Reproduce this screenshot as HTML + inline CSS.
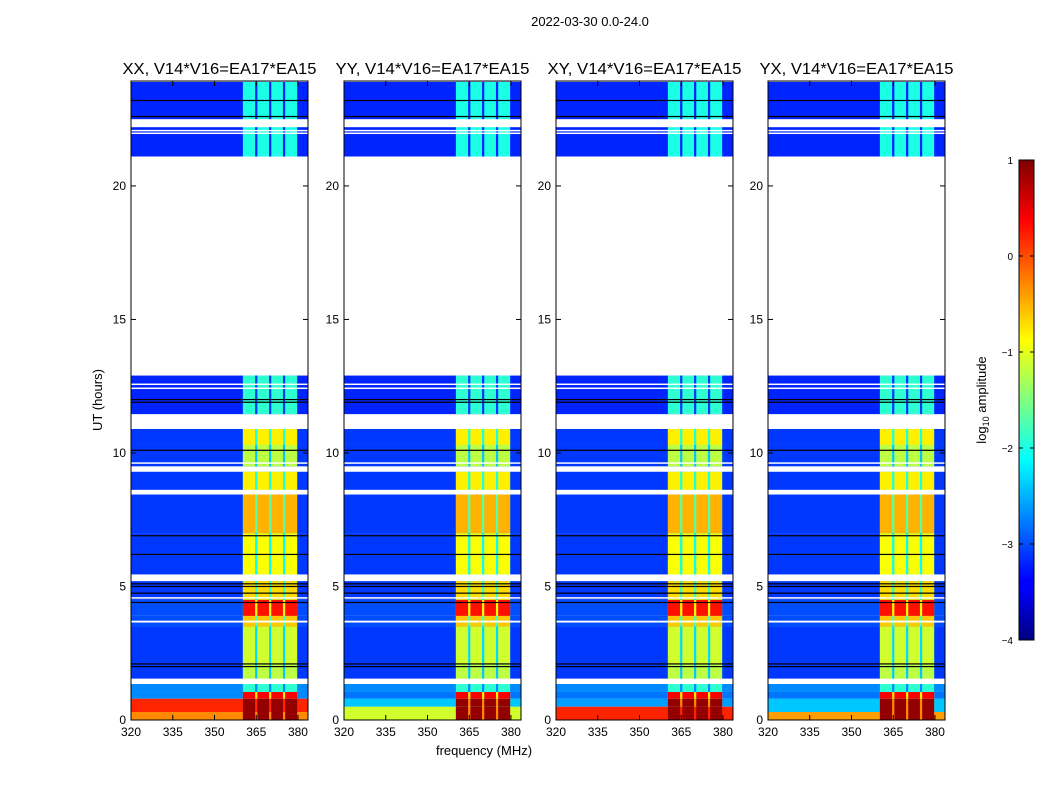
<!DOCTYPE html>
<html><head><meta charset="utf-8">
<style>
body{margin:0;background:#fff;}
svg text{font-family:"Liberation Sans",sans-serif;fill:#000;}
</style></head>
<body>
<svg id="fig" width="1050" height="800" xmlns="http://www.w3.org/2000/svg">
<rect width="1050" height="800" fill="#fff"/>
<text x="590" y="26" font-size="13" text-anchor="middle">2022-03-30 0.0-24.0</text>
<text x="484" y="755" font-size="13" text-anchor="middle">frequency (MHz)</text>
<text x="102" y="400" font-size="13" text-anchor="middle" transform="rotate(-90 102 400)">UT (hours)</text>
<defs>
<linearGradient id="jet" x1="0" y1="1" x2="0" y2="0">
<stop offset="0" stop-color="#00007f"/><stop offset="0.11" stop-color="#0000ff"/>
<stop offset="0.125" stop-color="#0000ff"/><stop offset="0.375" stop-color="#00ffff"/>
<stop offset="0.625" stop-color="#ffff00"/><stop offset="0.875" stop-color="#ff0000"/>
<stop offset="1" stop-color="#7f0000"/></linearGradient>
</defs>
<g id="panels"></g>
<rect x="1019" y="160" width="15" height="480" fill="url(#jet)" stroke="#000" stroke-width="1"/>
<g id="cbar"></g>
<text x="986" y="400" font-size="13" text-anchor="middle" transform="rotate(-90 986 400)">log<tspan font-size="9" dy="3">10</tspan><tspan dy="-3"> amplitude</tspan></text>
</svg>
<script>
const NS="http://www.w3.org/2000/svg";
const panelTitles=["XX, V14*V16=EA17*EA15","YY, V14*V16=EA17*EA15","XY, V14*V16=EA17*EA15","YX, V14*V16=EA17*EA15"];
const panelLeft=[131,344,556,768];
const xTicks=[320,335,350,365,380];
const yTicks=[0,5,10,15,20];
const cbarTicks=[1,0,-1,-2,-3,-4];
// segments: [t0,t1,bgLevel,bandLevel]
const segmentsCommon=[
 [1.05,1.35,-2.7,-1.9],[1.5,2.1,-3.1,-1.2],[2.1,3.5,-3.1,-1.1],[3.5,3.9,-3.0,-0.6],
 [3.9,4.5,-3.0,0.3],[4.5,5.2,-3.1,-0.7],[5.45,7.0,-3.1,-0.9],[7.0,8.5,-3.1,-0.5],
 [8.6,9.3,-3.1,-0.8],[9.5,10.3,-3.1,-1.2],[10.3,10.9,-3.1,-0.8],[11.45,12.9,-3.2,-1.9],[21.1,23.9,-3.2,-2.0]];
const bottomXX=[[0,0.3,-0.3,0.9],[0.3,0.8,0.2,0.9],[0.8,1.05,-2.7,0.4]];
const bottomYY=[[0,0.5,-1.1,0.9],[0.5,0.8,-2.4,0.9],[0.8,1.05,-2.8,0.4]];
const bottomXY=[[0,0.5,0.2,0.9],[0.5,0.8,-2.6,0.9],[0.8,1.05,-2.8,0.4]];
const bottomYX=[[0,0.3,-0.4,0.9],[0.3,0.8,-2.4,0.9],[0.8,1.05,-2.8,0.4]];
const bottoms=[bottomXX,bottomYY,bottomXY,bottomYX];
const bandCols=[[360.2,364.6],[365.4,369.6],[370.4,374.6],[375.4,379.7]];
const whiteLines=[[1.35,1.42],[1.5,1.55],[3.65,3.72],[4.55,4.6],[5.25,5.45],[8.45,8.5],[8.58,8.62],[9.3,9.45],[9.6,9.65],[10.9,11.0],[11.1,11.45],[12.4,12.45],[12.55,12.6],[22.2,22.5],[21.95,22.0],[22.05,22.1]];
const blackLines=[2.0,2.1,4.4,4.75,5.0,5.1,6.2,6.9,10.1,11.9,12.0,22.6,23.2];
const FMIN=320,FMAX=383.6,TMIN=0,TMAX=23.93,TOP=81,BOT=720;
function jet(v){const t=Math.max(0,Math.min(1,(v+4)/5));const c=x=>Math.round(255*Math.max(0,Math.min(1,x)));
 return `rgb(${c(1.5-Math.abs(4*t-3))},${c(1.5-Math.abs(4*t-2))},${c(1.5-Math.abs(4*t-1))})`;}
function yS(t){return BOT-(t-TMIN)/(TMAX-TMIN)*(BOT-TOP);}
function mk(tag,attrs,parent){const e=document.createElementNS(NS,tag);for(const k in attrs)e.setAttribute(k,attrs[k]);parent.appendChild(e);return e;}
const root=document.getElementById('panels');
panelTitles.forEach((title,pi)=>{
 const L=panelLeft[pi],W=177;
 const xS=f=>L+(f-FMIN)/(FMAX-FMIN)*W;
 const g=mk('g',{},root);
 
 
 const segs=bottoms[pi].concat(segmentsCommon);
 segs.forEach(s=>{
  const y0=yS(s[1]),y1=yS(s[0]);
  const r=mk('rect',{x:L,y:y0,width:W,height:y1-y0,fill:jet(s[2])},g);
  
  
  const gap=mk('rect',{x:xS(bandCols[0][0]),y:y0,width:xS(bandCols[3][1])-xS(bandCols[0][0]),height:y1-y0,fill:jet(Math.max(s[2],s[3]-1.2))},g);
  
  
  bandCols.forEach(c=>{
   const b=mk('rect',{x:xS(c[0]),y:y0,width:xS(c[1])-xS(c[0]),height:y1-y0,fill:jet(s[3])},g);
   
   
  });
 });
 const wg=mk('rect',{x:L,y:yS(21.1),width:W,height:yS(12.9)-yS(21.1),fill:'#fff'},g);
 
 
 const wt=mk('rect',{x:L,y:TOP,width:W,height:yS(23.9)-TOP,fill:'#fff'},g);
 
 
 whiteLines.forEach(w=>{const e=mk('rect',{x:L,y:yS(w[1]),width:W,height:Math.max(1.5,yS(w[0])-yS(w[1])),fill:'#fff'},g);
  
  });
 blackLines.forEach(b=>{const e=mk('rect',{x:L,y:yS(b)-0.6,width:W,height:1.2,fill:'#000'},g);
  
  });
 const fr=mk('rect',{x:L,y:TOP,width:W,height:BOT-TOP,fill:'none',stroke:'#000','stroke-width':1},g);
 
 
 const tt=mk('text',{x:L+W/2,y:TOP-7,'font-size':16,'text-anchor':'middle',textLength:194,lengthAdjust:'spacingAndGlyphs'},g);tt.textContent=title;
 
 
 xTicks.forEach(f=>{const x=xS(f);
  mk('line',{x1:x,x2:x,y1:BOT,y2:BOT-5,stroke:'#000'},g);mk('line',{x1:x,x2:x,y1:TOP,y2:TOP+5,stroke:'#000'},g);
  const t=mk('text',{x:x,y:BOT+16,'font-size':12,'text-anchor':'middle'},g);t.textContent=f;
  
  });
 yTicks.forEach(v=>{const y=yS(v);
  mk('line',{x1:L,x2:L+5,y1:y,y2:y,stroke:'#000'},g);mk('line',{x1:L+W,x2:L+W-5,y1:y,y2:y,stroke:'#000'},g);
  const t=mk('text',{x:L-5,y:y+4,'font-size':12,'text-anchor':'end'},g);t.textContent=v;
  
  });
});
const cb=document.getElementById('cbar');
cbarTicks.forEach(v=>{const y=640-(v+4)/5*480;
 const t=mk('text',{x:1013,y:y+4,'font-size':10,'text-anchor':'end'},cb);t.textContent=v<0?'\u2212'+(-v):v;
 
 
 mk('line',{x1:1019,x2:1023,y1:y,y2:y,stroke:'#000'},cb);mk('line',{x1:1034,x2:1030,y1:y,y2:y,stroke:'#000'},cb);});
</script>
</body></html>
